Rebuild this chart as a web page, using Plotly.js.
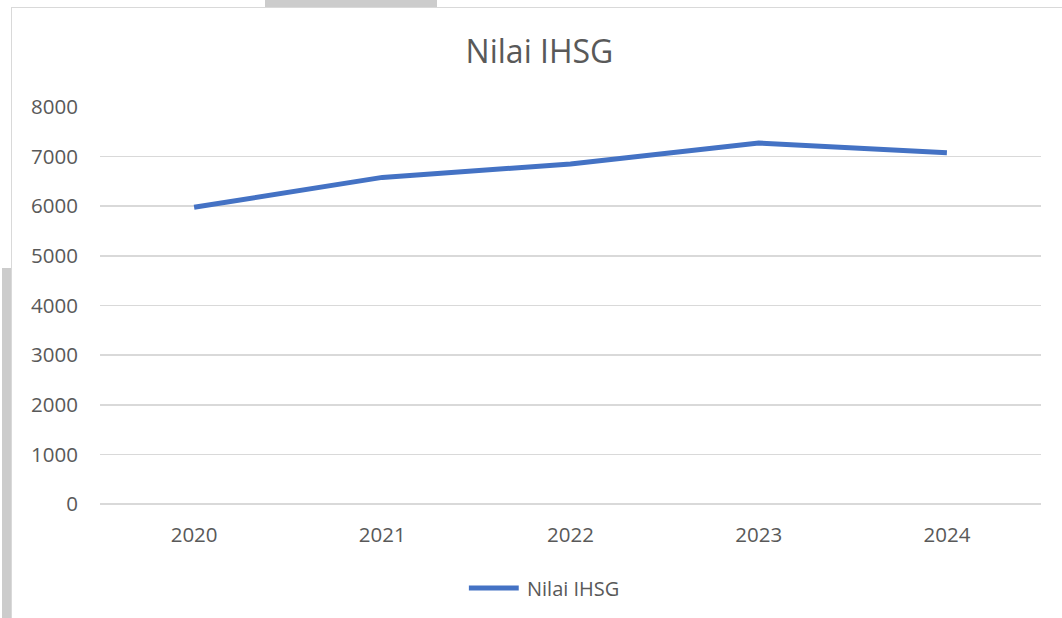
<!DOCTYPE html>
<html>
<head>
<meta charset="utf-8">
<script src="https://cdn.plot.ly/plotly-3.0.1.min.js"></script>
<style>
  html, body { margin:0; padding:0; background:#fff; width:1062px; height:618px; overflow:hidden; }
  #frame { position:absolute; left:11px; top:7px; width:1100px; height:700px; border:1.5px solid #d9d9d9; box-sizing:border-box; }
  #tab { position:absolute; left:265px; top:0; width:172px; height:7px; background:#cccccc; }
  #side { position:absolute; left:2px; top:268px; width:9px; height:350px; background:#cccccc; }
  #chart { position:absolute; left:0; top:0; width:1062px; height:618px; }
</style>
</head>
<body>
<div id="tab"></div>
<div id="side"></div>
<div id="frame"></div>
<div id="chart"></div>
<script>
const years = ["2020", "2021", "2022", "2023", "2024"];
const ihsgValues = [5979.07, 6581.48, 6850.62, 7272.80, 7079.91];
const yTicks = [0, 1000, 2000, 3000, 4000, 5000, 6000, 7000, 8000];
const seriesName = "Nilai IHSG";
const chartTitle = "Nilai IHSG";

const font = "Open Sans, Noto Sans, sans-serif";
const grey = "#595959";
const lineColor = "#4472C4";

Plotly.newPlot("chart", [{
  x: years,
  y: ihsgValues,
  type: "scatter",
  mode: "lines",
  name: seriesName,
  line: { color: lineColor, width: 5, shape: "linear" },
  hoverinfo: "x+y"
}], {
  width: 1062,
  height: 618,
  paper_bgcolor: "rgba(0,0,0,0)",
  plot_bgcolor: "rgba(0,0,0,0)",
  margin: { l: 100, r: 21, t: 107, b: 114 },
  showlegend: false,
  title: {
    text: chartTitle,
    font: { family: font, size: 32, color: grey },
    x: 0.508, xref: "container", xanchor: "center",
    y: 0.916, yref: "container", yanchor: "middle"
  },
  xaxis: {
    type: "category",
    range: [-0.5, 4.5],
    showgrid: false,
    zeroline: false,
    showline: false,
    ticks: "",
    ticklabelstandoff: 16,
    tickfont: { family: font, size: 20.5, color: grey }
  },
  yaxis: {
    range: [0, 8000],
    tickvals: yTicks,
    ticktext: yTicks.map(String),
    showgrid: true,
    gridcolor: "#d9d9d9",
    gridwidth: 1.6,
    zeroline: true,
    zerolinecolor: "#d9d9d9",
    zerolinewidth: 1.6,
    showline: false,
    ticks: "",
    ticklabelstandoff: 21,
    tickfont: { family: font, size: 20.5, color: grey }
  },
  shapes: [{
    type: "line", xref: "paper", yref: "paper",
    x0: 0.392, x1: 0.445, y0: -0.2116, y1: -0.2116,
    line: { color: lineColor, width: 5 }
  }],
  annotations: [{
    text: seriesName, xref: "paper", yref: "paper",
    x: 0.4515, y: -0.2116, xanchor: "left", yanchor: "middle",
    showarrow: false,
    font: { family: font, size: 20, color: grey }
  }]
}, { displayModeBar: false, staticPlot: true });
</script>
</body>
</html>
